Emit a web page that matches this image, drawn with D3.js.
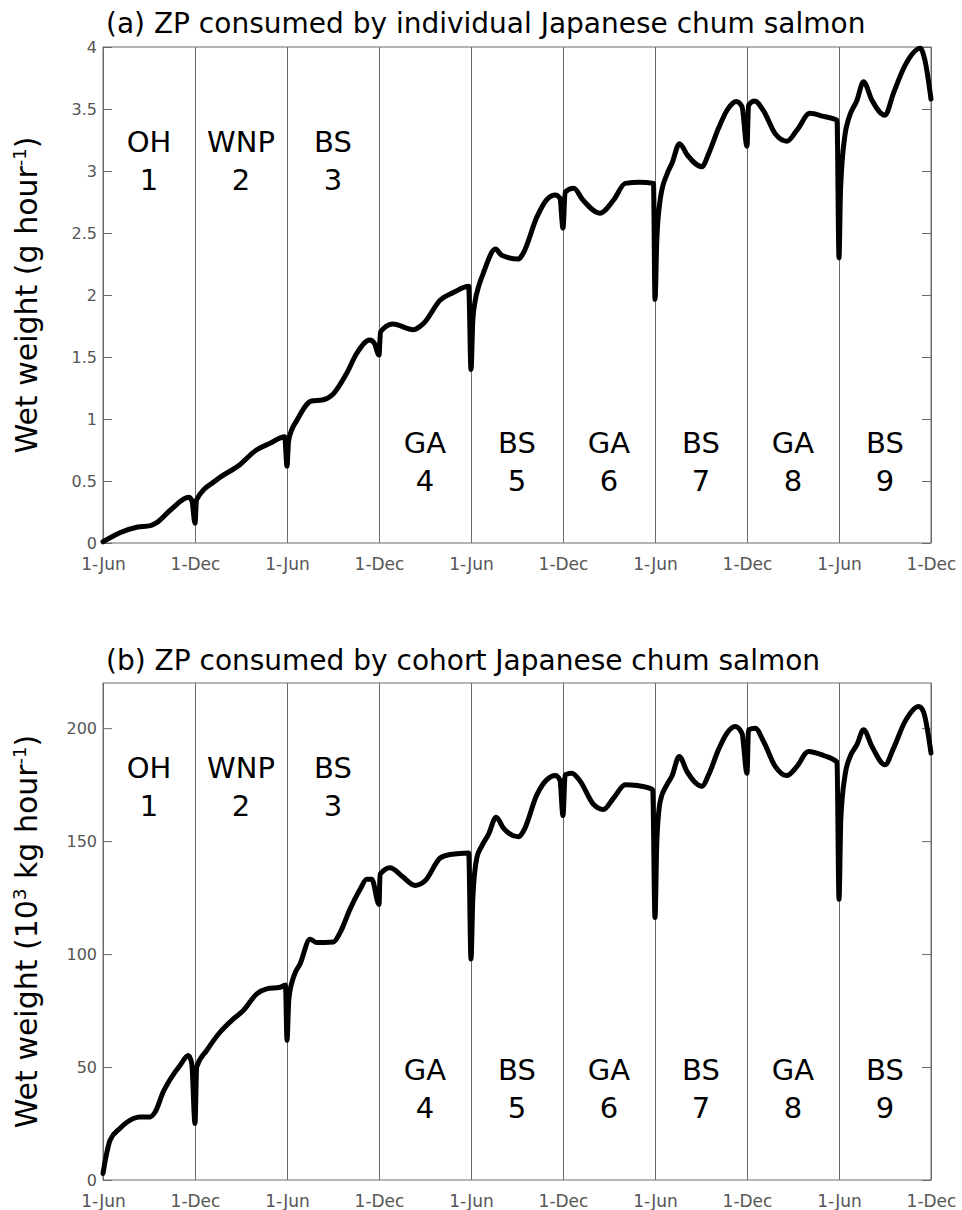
<!DOCTYPE html>
<html>
<head>
<meta charset="utf-8">
<script src="https://cdn.jsdelivr.net/npm/d3@7"></script>
<style>
  body { margin: 0; background: #fff; }
  svg text { font-family: "DejaVu Sans", sans-serif; }
  .tick text { fill: #555; }
</style>
</head>
<body>
<script>
// months since the first 1-Jun
const tickMonths = [0, 6, 12, 18, 24, 30, 36, 42, 48, 54];
const tickLabels = ["1-Jun", "1-Dec", "1-Jun", "1-Dec", "1-Jun", "1-Dec", "1-Jun", "1-Dec", "1-Jun", "1-Dec"];

const zoneNames = ["OH", "WNP", "BS", "GA", "BS", "GA", "BS", "GA", "BS"];
const zoneNumbers = ["1", "2", "3", "4", "5", "6", "7", "8", "9"];

const yTicksA = [0, 0.5, 1, 1.5, 2, 2.5, 3, 3.5, 4];
const yTicksB = [0, 50, 100, 150, 200];

// (a) individual, g hour-1
const monthsA = [0, 1.1, 2.2, 3.1, 3.5, 4.4, 5.6, 5.8, 6.0, 6.1, 7.4, 8.9, 10.0, 10.9, 11.85, 12.0, 12.1, 12.3,
  12.6, 13.6, 14.3, 15.0, 15.9, 16.55, 17.4, 17.7, 18.0, 18.1, 18.9, 20.25, 20.9, 22.0, 22.85, 23.85, 24.0,
  24.12, 24.27, 24.5, 24.8, 25.6, 26.0, 27.1, 27.4, 28.3, 28.95, 29.5, 29.8, 30.0, 30.14, 30.7, 31.3, 32.4,
  33.3, 34.06, 35.0, 35.9, 36.0, 36.12, 36.34, 36.8, 37.1, 37.6, 38.1, 39.06, 39.5, 40.14, 40.7, 41.3, 41.67,
  42.0, 42.1, 42.5, 43.1, 43.84, 44.6, 45.26, 46.1, 47.0, 47.87, 48.0, 48.1, 48.4, 48.6, 49.17, 49.6, 50.15,
  51.0, 51.56, 52.3, 53.3, 53.6, 54.0];
const weightA = [0.01, 0.083, 0.127, 0.14, 0.164, 0.266, 0.368, 0.34, 0.16, 0.347, 0.508, 0.629, 0.75, 0.804,
  0.857, 0.62, 0.82, 0.91, 0.98, 1.145, 1.153, 1.2, 1.37, 1.53, 1.637, 1.61, 1.516, 1.704, 1.766, 1.72, 1.77,
  1.96, 2.02, 2.07, 1.40, 1.8, 1.95, 2.07, 2.175, 2.37, 2.32, 2.29, 2.336, 2.63, 2.77, 2.806, 2.78, 2.54,
  2.83, 2.86, 2.766, 2.66, 2.766, 2.90, 2.91, 2.90, 1.965, 2.45, 2.77, 2.98, 3.06, 3.22, 3.13, 3.035, 3.14,
  3.344, 3.49, 3.56, 3.52, 3.20, 3.53, 3.565, 3.48, 3.30, 3.24, 3.33, 3.465, 3.44, 3.41, 2.30, 2.85, 3.30,
  3.41, 3.57, 3.72, 3.57, 3.45, 3.63, 3.85, 3.99, 3.895, 3.58];

// (b) cohort, 10^3 kg hour-1
const monthsB = [0, 0.24, 0.46, 1.1, 1.98, 2.41, 3.07, 3.4, 3.93, 4.48, 5.02, 5.57, 5.79, 6.0, 6.11, 6.77,
  7.63, 8.5, 9.15, 10.03, 10.68, 11.55, 11.9, 12.0, 12.12, 12.42, 12.85, 13.5, 13.94, 15.03, 15.46, 16.11,
  16.77, 17.2, 17.53, 18.0, 18.07, 18.72, 19.49, 20.35, 21.0, 22.0, 22.64, 23.85, 24.0, 24.12, 24.38, 24.7,
  25.14, 25.64, 26.1, 27.1, 27.42, 28.3, 28.95, 29.5, 29.8, 30.0, 30.14, 30.58, 31.12, 32.0, 32.64, 33.3,
  34.06, 34.82, 35.85, 36.0, 36.12, 36.34, 36.78, 37.1, 37.58, 38.08, 39.06, 39.5, 40.14, 40.69, 41.23,
  41.67, 42.0, 42.1, 42.54, 43.08, 43.84, 44.6, 45.26, 46.0, 47.0, 47.87, 48.0, 48.12, 48.4, 48.73, 49.17,
  49.6, 50.15, 51.0, 51.56, 52.3, 53.2, 53.5, 54.0];
const weightB = [2.9, 11.8, 17.6, 22.8, 27.2, 27.9, 27.9, 30.1, 39, 45.6, 50.7, 55.1, 51.5, 25.0, 50, 57.4,
  65.4, 71.3, 75, 82.4, 84.6, 85.3, 86.3, 61.8, 80, 89.7, 95.6, 106.6, 105.1, 105.4, 109.5, 119.9, 128.7,
  133.1, 133.1, 122, 135.3, 138.2, 134.6, 130.4, 132.4, 142.6, 144.1, 144.8, 97.8, 125, 142.6, 147.8, 153,
  160.6, 155.9, 151.9, 154.4, 170.6, 177.2, 179, 177, 161.3, 179.4, 180.1, 176.5, 166.2, 164, 169.1, 175,
  174.6, 172.8, 116.2, 150, 167.6, 175, 178.7, 187.5, 180.9, 174.3, 179.4, 190.5, 197.8, 200.7, 197.8,
  180.1, 199.3, 200, 194.1, 183.1, 179, 183.1, 189.7, 187.9, 185, 124.3, 160, 179.4, 187.5, 192.7, 199.3,
  191.9, 183.8, 191.2, 202.9, 209.6, 207.4, 189];

const W = 962, H = 1210;
const left = 103, right = 931;

const svg = d3.select("body").append("svg")
    .attr("width", W)
    .attr("height", H);

function drawPanel(p) {
  const x = d3.scaleLinear().domain([0, 54]).range([left, right]);
  const y = d3.scaleLinear().domain([0, p.yMax]).range([p.bottom, p.top]);
  const g = svg.append("g");

  // vertical lines at each 1-Jun / 1-Dec + labels
  const xAxis = g.append("g")
      .attr("transform", `translate(0,${p.bottom})`)
      .call(d3.axisBottom(x)
        .tickValues(tickMonths)
        .tickSize(-(p.bottom - p.top))
        .tickPadding(15)
        .tickFormat((d, i) => tickLabels[i]));
  xAxis.select(".domain").remove();
  xAxis.selectAll(".tick line").attr("stroke", "#6a6a6a");
  xAxis.selectAll(".tick text").attr("font-size", 17);

  // y axis, ticks pointing inward
  const yAxis = g.append("g")
      .attr("transform", `translate(${left},0)`)
      .call(d3.axisLeft(y)
        .tickValues(p.yTicks)
        .tickSize(-9)
        .tickPadding(6)
        .tickFormat(d3.format("~g")));
  yAxis.select(".domain").remove();
  yAxis.selectAll(".tick line").attr("stroke", "#6a6a6a");
  yAxis.selectAll(".tick text").attr("font-size", 16).attr("dy", "0.36em");

  const yRight = g.append("g")
      .attr("transform", `translate(${right},0)`)
      .call(d3.axisRight(y).tickValues(p.yTicks).tickSize(-9).tickFormat(""));
  yRight.select(".domain").remove();
  yRight.selectAll(".tick line").attr("stroke", "#6a6a6a");

  // frame
  g.append("rect")
      .attr("x", left)
      .attr("y", p.top)
      .attr("width", right - left)
      .attr("height", p.bottom - p.top)
      .attr("fill", "none")
      .attr("stroke", "#6a6a6a")
      .attr("stroke-width", 1);

  // zone labels
  const zones = g.append("g").selectAll("g")
      .data(zoneNames)
      .enter().append("g")
      .attr("transform", (d, i) => `translate(${x(i * 6 + 3)},${p.top + (i < 3 ? p.labelHigh : p.labelLow)})`);
  zones.append("text")
      .attr("text-anchor", "middle")
      .attr("font-size", 29)
      .text(d => d);
  zones.append("text")
      .attr("text-anchor", "middle")
      .attr("font-size", 29)
      .attr("y", 38)
      .text((d, i) => zoneNumbers[i]);

  // the curve
  const line = d3.line()
      .x(d => x(d[0]))
      .y(d => y(d[1]))
      .curve(d3.curveMonotoneX);

  g.append("path")
      .datum(d3.zip(p.months, p.values))
      .attr("d", line)
      .attr("fill", "none")
      .attr("stroke", "#000")
      .attr("stroke-width", 5)
      .attr("stroke-linejoin", "round")
      .attr("stroke-linecap", "round");

  // title
  g.append("text")
      .attr("x", 106)
      .attr("y", p.titleY)
      .attr("font-size", 28)
      .text(p.title);

  // y label
  const yl = g.append("text")
      .attr("transform", `translate(37,${(p.top + p.bottom) / 2}) rotate(-90)`)
      .attr("text-anchor", "middle")
      .attr("font-size", 30);
  p.ylabel.forEach(part => {
    const t = yl.append("tspan").text(part.t);
    if (part.sup) t.attr("font-size", 18).attr("dy", -11);
    else if (part.after) t.attr("dy", 11);
  });
}

drawPanel({
  top: 47, bottom: 543, yMax: 4, yTicks: yTicksA,
  months: monthsA, values: weightA,
  labelHigh: 105, labelLow: 406, titleY: 33,
  title: "(a) ZP consumed by individual Japanese chum salmon",
  ylabel: [{t: "Wet weight (g hour"}, {t: "-1", sup: true}, {t: ")", after: true}]
});

drawPanel({
  top: 683, bottom: 1180, yMax: 220, yTicks: yTicksB,
  months: monthsB, values: weightB,
  labelHigh: 95, labelLow: 397, titleY: 670,
  title: "(b) ZP consumed by cohort Japanese chum salmon",
  ylabel: [{t: "Wet weight (10"}, {t: "3", sup: true}, {t: " kg hour", after: true}, {t: "-1", sup: true}, {t: ")", after: true}]
});
</script>
</body>
</html>
